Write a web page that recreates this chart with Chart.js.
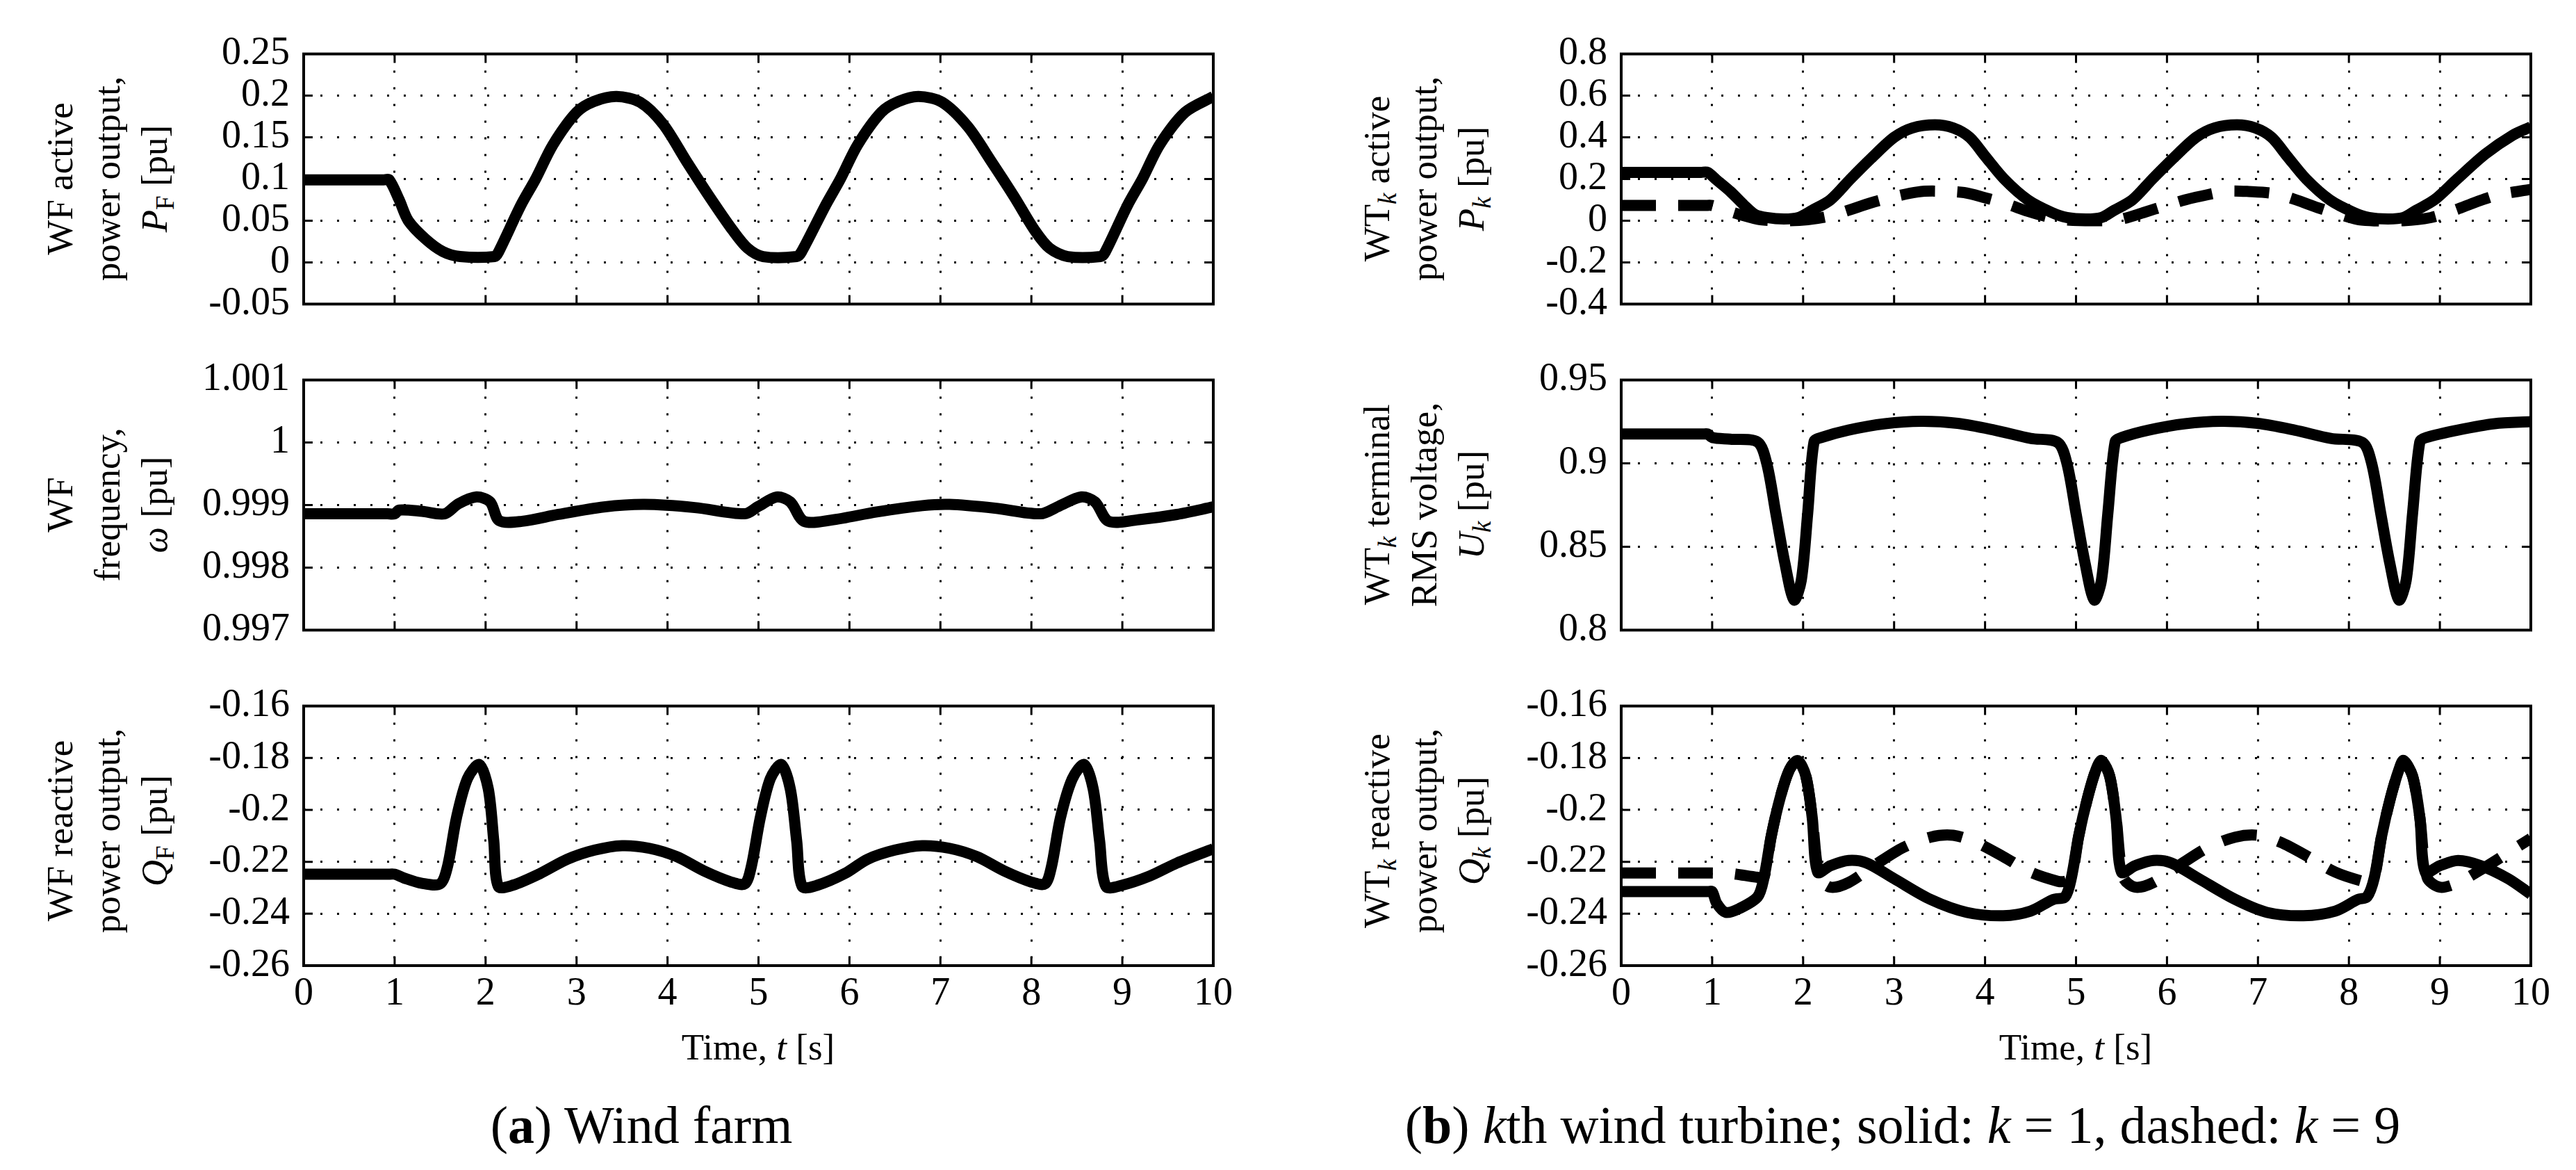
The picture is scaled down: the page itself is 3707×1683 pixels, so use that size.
<!DOCTYPE html>
<html>
<head>
<meta charset="utf-8">
<script src="https://cdn.jsdelivr.net/npm/chart.js@4.4.1/dist/chart.umd.min.js"></script>
<style>
  body { margin: 0; background: #fff; }
  #page { position: relative; width: 3707px; height: 1683px; font-family: 'Liberation Serif', 'DejaVu Serif', serif; color: #000; overflow: hidden; }
  .box { position: absolute; }
  .ylab { position: absolute; transform: translate(-50%, -50%) rotate(-90deg); text-align: center; font-size: 53px; line-height: 68px; white-space: nowrap; }
  .ylab sub { font-size: 0.7em; line-height: 0; vertical-align: -0.28em; }
  .xlab { position: absolute; transform: translate(-50%, -50%); font-size: 53px; white-space: nowrap; }
  .cap { position: absolute; transform: translate(-50%, -50%); font-size: 76px; white-space: nowrap; }
</style>
</head>
<body>
<div id="page">
  <div class="ylab" style="left:154px; top:257px;">WF active<br>power output,<br><i>P</i><sub>F</sub> [pu]</div>
  <div class="ylab" style="left:154px; top:726px;">WF<br>frequency,<br><i>ω</i> [pu]</div>
  <div class="ylab" style="left:154px; top:1195px;">WF reactive<br>power output,<br><i>Q</i><sub>F</sub> [pu]</div>
  <div class="ylab" style="left:2049px; top:257px;">WT<sub><i>k</i></sub> active<br>power output,<br><i>P<sub>k</sub></i> [pu]</div>
  <div class="ylab" style="left:2049px; top:726px;">WT<sub><i>k</i></sub> terminal<br>RMS voltage,<br><i>U<sub>k</sub></i> [pu]</div>
  <div class="ylab" style="left:2049px; top:1195px;">WT<sub><i>k</i></sub> reactive<br>power output,<br><i>Q<sub>k</sub></i> [pu]</div>
  <div class="xlab" style="left:1091px; top:1506px;">Time, <i>t</i> [s]</div>
  <div class="xlab" style="left:2987px; top:1506px;">Time, <i>t</i> [s]</div>
  <div class="cap" style="left:923px; top:1618px;">(<b>a</b>) Wind farm</div>
  <div class="cap" style="left:2738px; top:1618px;">(<b>b</b>) <i>k</i>th wind turbine; solid: <i>k</i> = 1, dashed: <i>k</i> = 9</div>
</div>
<script>
//////////////////////////////////////////////
// Data
//////////////////////////////////////////////
const xTicks = [0, 1, 2, 3, 4, 5, 6, 7, 8, 9, 10];
const xTickLabels = ['0', '1', '2', '3', '4', '5', '6', '7', '8', '9', '10'];

const pfTicks = [-0.05, 0, 0.05, 0.1, 0.15, 0.2, 0.25];
const pfTickLabels = ['-0.05', '0', '0.05', '0.1', '0.15', '0.2', '0.25'];
const omegaTicks = [0.997, 0.998, 0.999, 1, 1.001];
const omegaTickLabels = ['0.997', '0.998', '0.999', '1', '1.001'];
const qTicks = [-0.26, -0.24, -0.22, -0.2, -0.18, -0.16];
const qTickLabels = ['-0.26', '-0.24', '-0.22', '-0.2', '-0.18', '-0.16'];
const pkTicks = [-0.4, -0.2, 0, 0.2, 0.4, 0.6, 0.8];
const pkTickLabels = ['-0.4', '-0.2', '0', '0.2', '0.4', '0.6', '0.8'];
const ukTicks = [0.8, 0.85, 0.9, 0.95];
const ukTickLabels = ['0.8', '0.85', '0.9', '0.95'];

// (a) wind farm active power P_F
const pfTime = [0, 0.5, 0.88, 0.94, 1.05, 1.15, 1.34, 1.53, 1.72, 2.1, 2.14, 2.39, 2.55, 2.74, 3.0, 3.19, 3.44, 3.7, 3.95, 4.21, 4.46, 4.72, 4.88,
  5.05, 5.42, 5.47, 5.74, 5.9, 6.09, 6.35, 6.54, 6.76, 7.02, 7.3, 7.56, 7.81, 8.04, 8.2,
  8.4, 8.76, 8.81, 9.06, 9.22, 9.41, 9.69, 10];
const pfValue = [0.099, 0.099, 0.099, 0.099, 0.075, 0.05, 0.028, 0.013, 0.007, 0.007, 0.012, 0.069, 0.1, 0.141, 0.18, 0.193, 0.199, 0.192, 0.166, 0.121, 0.079, 0.038, 0.017,
  0.007, 0.007, 0.012, 0.069, 0.1, 0.141, 0.18, 0.193, 0.199, 0.192, 0.163, 0.121, 0.079, 0.038, 0.017,
  0.007, 0.007, 0.012, 0.069, 0.1, 0.141, 0.18, 0.199];

// (a) wind farm frequency omega
const omegaTime = [0, 0.5, 0.92, 1.0, 1.05, 1.3, 1.55, 1.7, 1.9, 2.05, 2.15, 2.4, 2.8, 3.3, 3.75, 4.3, 4.85, 5.0, 5.2, 5.35, 5.5, 5.8,
  6.3, 6.8, 7.1, 7.6, 8.1, 8.3, 8.55, 8.7, 8.85, 9.2, 9.6, 10];
const omegaValue = [0.99886, 0.99886, 0.99886, 0.99886, 0.99892, 0.9989, 0.99886, 0.99902, 0.99913, 0.99905, 0.99875, 0.99874, 0.99885, 0.99897, 0.99901, 0.99896, 0.99886, 0.99898, 0.99913, 0.99905, 0.99874, 0.99876,
  0.99889, 0.99899, 0.99901, 0.99895, 0.99886, 0.99898, 0.99913, 0.99905, 0.99874, 0.99877, 0.99885, 0.99897];

// (a) wind farm reactive power Q_F
const qfTime = [0, 0.5, 0.92, 1.0, 1.1, 1.3, 1.5, 1.58, 1.68, 1.8, 1.93, 2.03, 2.09, 2.14, 2.3, 2.6, 2.9, 3.2, 3.5, 3.8, 4.1, 4.4, 4.7,
  4.85, 4.92, 5.02, 5.13, 5.25, 5.35, 5.42, 5.48, 5.65, 5.95, 6.2, 6.5, 6.8, 7.1, 7.4, 7.7, 8.0,
  8.15, 8.22, 8.32, 8.45, 8.58, 8.68, 8.75, 8.82, 9.0, 9.3, 9.6, 10];
const qfValue = [-0.2248, -0.2248, -0.2248, -0.2248, -0.2262, -0.2283, -0.2285, -0.222, -0.203, -0.188, -0.1825, -0.192, -0.212, -0.2295, -0.229, -0.2245, -0.219, -0.2155, -0.2138, -0.2148, -0.218, -0.2235, -0.2278,
  -0.2285, -0.222, -0.203, -0.188, -0.1825, -0.192, -0.212, -0.2295, -0.229, -0.2245, -0.219, -0.2155, -0.2138, -0.2148, -0.218, -0.2235, -0.2278,
  -0.2285, -0.222, -0.203, -0.188, -0.1825, -0.192, -0.212, -0.2295, -0.229, -0.2255, -0.2205, -0.215];

// (b) turbine active power P_k, k = 1 (solid)
const pk1Time = [0, 0.5, 0.88, 0.95, 1.05, 1.2, 1.35, 1.47, 1.6, 1.79, 1.95, 2.1, 2.3, 2.52, 2.75, 3.0, 3.2, 3.45, 3.65, 3.83, 4.0, 4.21,
  4.47, 4.73, 4.9, 5.11, 5.28, 5.42, 5.62, 5.84, 6.07, 6.32, 6.52, 6.77, 6.97, 7.15, 7.32, 7.53,
  7.79, 8.05, 8.22, 8.43, 8.6, 8.74, 8.94, 9.19, 9.5, 9.8, 10];
const pk1Value = [0.232, 0.232, 0.232, 0.232, 0.195, 0.14, 0.075, 0.03, 0.015, 0.008, 0.015, 0.05, 0.1, 0.2, 0.3, 0.4, 0.445, 0.46, 0.445, 0.4, 0.31, 0.2,
  0.1, 0.04, 0.015, 0.008, 0.015, 0.05, 0.1, 0.2, 0.3, 0.4, 0.445, 0.46, 0.445, 0.4, 0.31, 0.2,
  0.1, 0.04, 0.015, 0.008, 0.015, 0.05, 0.1, 0.2, 0.32, 0.41, 0.45];

// (b) turbine active power P_k, k = 9 (dashed)
const pk9Time = [0, 0.5, 0.92, 1.0, 1.15, 1.3, 1.53, 1.8, 2.05, 2.27, 2.5, 2.74, 3.0, 3.26, 3.45, 3.77, 4.0, 4.24, 4.47, 4.69, 4.9, 5.3,
  5.5, 5.75, 5.97, 6.2, 6.45, 6.67, 6.9, 7.18, 7.42, 7.66, 7.9, 8.14, 8.6, 8.9, 9.16, 9.4, 9.64, 10];
const pk9Value = [0.073, 0.073, 0.073, 0.073, 0.05, 0.03, 0.005, 0.0, 0.005, 0.02, 0.05, 0.085, 0.115, 0.138, 0.142, 0.135, 0.11, 0.08, 0.045, 0.018, 0.003, 0.0,
  0.008, 0.04, 0.07, 0.1, 0.125, 0.142, 0.14, 0.13, 0.1, 0.062, 0.03, 0.003, 0.0, 0.015, 0.05, 0.09, 0.124, 0.15];

// (b) turbine terminal voltage U_k, k = 1
const ukTime = [0, 0.5, 0.9, 0.95, 1.0, 1.2, 1.5, 1.6, 1.7, 1.8, 1.9, 1.98, 2.05, 2.12, 2.2, 2.5, 2.9, 3.3, 3.7, 4.1, 4.5, 4.8,
  4.9, 5.0, 5.1, 5.2, 5.28, 5.35, 5.43, 5.5, 5.8, 6.2, 6.6, 7.0, 7.4, 7.8, 8.15,
  8.25, 8.35, 8.45, 8.55, 8.63, 8.7, 8.78, 8.85, 9.2, 9.6, 10];
const ukValue = [0.9176, 0.9176, 0.9176, 0.9176, 0.9155, 0.9145, 0.9128, 0.9, 0.87, 0.84, 0.818, 0.83, 0.87, 0.913, 0.9155, 0.92, 0.9238, 0.9252, 0.924, 0.92, 0.915, 0.9125,
  0.9, 0.87, 0.84, 0.818, 0.83, 0.87, 0.913, 0.9155, 0.92, 0.9238, 0.9252, 0.924, 0.92, 0.915, 0.9125,
  0.9, 0.87, 0.84, 0.818, 0.83, 0.87, 0.913, 0.9155, 0.92, 0.9238, 0.925];

// (b) turbine reactive power Q_k, k = 1 (solid)
const qk1Time = [0, 0.5, 0.95, 1.0, 1.05, 1.15, 1.3, 1.5, 1.57, 1.65, 1.75, 1.85, 1.94, 2.03, 2.1, 2.16, 2.3, 2.5, 2.7, 3.0, 3.4, 3.8, 4.2, 4.5, 4.75,
  4.88, 4.95, 5.03, 5.13, 5.22, 5.28, 5.37, 5.44, 5.5, 5.65, 5.85, 6.05, 6.35, 6.75, 7.1, 7.5, 7.85, 8.1,
  8.2, 8.28, 8.36, 8.46, 8.55, 8.6, 8.7, 8.78, 8.84, 9.0, 9.2, 9.45, 9.75, 10];
const qk1Value = [-0.2315, -0.2315, -0.2315, -0.2315, -0.236, -0.2395, -0.238, -0.2335, -0.226, -0.21, -0.195, -0.1845, -0.181, -0.187, -0.203, -0.224, -0.2215, -0.2195, -0.2205, -0.2265, -0.2345, -0.2395, -0.2408, -0.239, -0.2345,
  -0.2335, -0.226, -0.21, -0.195, -0.1845, -0.181, -0.187, -0.203, -0.224, -0.2215, -0.2195, -0.2205, -0.2265, -0.2345, -0.2395, -0.2408, -0.239, -0.2345,
  -0.2335, -0.226, -0.21, -0.195, -0.1845, -0.181, -0.187, -0.203, -0.224, -0.2215, -0.2195, -0.2215, -0.2265, -0.2325];

// (b) turbine reactive power Q_k, k = 9 (dashed)
const qk9Time = [0, 0.5, 1.0, 1.2, 1.5, 1.57, 1.65, 1.75, 1.85, 1.94, 2.03, 2.1, 2.18, 2.3, 2.5, 2.8, 3.1, 3.4, 3.65, 3.9, 4.2, 4.5, 4.8,
  4.88, 4.95, 5.03, 5.13, 5.22, 5.28, 5.37, 5.44, 5.52, 5.65, 5.85, 6.15, 6.45, 6.75, 7.0, 7.25, 7.55, 7.85, 8.15,
  8.22, 8.28, 8.36, 8.46, 8.55, 8.6, 8.7, 8.78, 8.86, 9.0, 9.2, 9.5, 9.75, 10];
const qk9Value = [-0.2243, -0.2243, -0.2243, -0.2245, -0.226, -0.226, -0.21, -0.195, -0.1845, -0.181, -0.187, -0.203, -0.226, -0.2298, -0.228, -0.221, -0.2145, -0.2105, -0.2098, -0.2125, -0.218, -0.224, -0.2275,
  -0.2275, -0.226, -0.21, -0.195, -0.1845, -0.181, -0.187, -0.203, -0.226, -0.2298, -0.228, -0.221, -0.2145, -0.2105, -0.2098, -0.2125, -0.218, -0.224, -0.2275,
  -0.2275, -0.226, -0.21, -0.195, -0.1845, -0.181, -0.187, -0.203, -0.226, -0.2298, -0.228, -0.222, -0.2165, -0.211];

//////////////////////////////////////////////
// Layout of the six axes (page pixels)
//////////////////////////////////////////////
const COL_LEFT = [437, 2333];
const ROW_TOP = [64, 533, 1002];
const PLOT_W = 1309;
const PLOT_H = 387;
const Y_AXIS_W = 230;
const PAD_TOP = 40;
const PAD_RIGHT = 45;

const FONT = "'Liberation Serif', 'DejaVu Serif', serif";
const LINE_W = 16;
const DASH = [50, 32];

function pairs(t, v) {
    return t.map((x, i) => ({ x: x, y: v[i] }));
}

//////////////////////////////////////////////
// Box frame + inward tick marks (MATLAB look)
//////////////////////////////////////////////
const framePlugin = {
    id: 'frame',
    afterDatasetsDraw(chart) {
        const ctx = chart.ctx;
        const a = chart.chartArea;
        const xs = chart.scales.x;
        const ys = chart.scales.y;
        const len = 13;
        ctx.save();
        ctx.strokeStyle = '#000';
        ctx.lineWidth = 3;
        ctx.setLineDash([]);
        ctx.beginPath();
        xs.ticks.forEach(tk => {
            const px = xs.getPixelForValue(tk.value);
            ctx.moveTo(px, a.bottom); ctx.lineTo(px, a.bottom - len);
            ctx.moveTo(px, a.top); ctx.lineTo(px, a.top + len);
        });
        ys.ticks.forEach(tk => {
            const py = ys.getPixelForValue(tk.value);
            ctx.moveTo(a.left, py); ctx.lineTo(a.left + len, py);
            ctx.moveTo(a.right, py); ctx.lineTo(a.right - len, py);
        });
        ctx.stroke();
        ctx.lineWidth = 4;
        ctx.strokeRect(a.left, a.top, a.right - a.left, a.bottom - a.top);
        ctx.restore();
    }
};

//////////////////////////////////////////////
// Build one subplot
//////////////////////////////////////////////
function makePlot(col, row, yMin, yMax, yTicks, yLabels, series) {
    const bottom = row === 2;
    const xAxisH = bottom ? 100 : 0;
    const padBottom = bottom ? 0 : 40;

    const box = document.createElement('div');
    box.className = 'box';
    box.style.left = (COL_LEFT[col] - Y_AXIS_W) + 'px';
    box.style.top = (ROW_TOP[row] - PAD_TOP) + 'px';
    box.style.width = (Y_AXIS_W + PLOT_W + PAD_RIGHT) + 'px';
    box.style.height = (PAD_TOP + PLOT_H + xAxisH + padBottom) + 'px';
    const canvas = document.createElement('canvas');
    box.appendChild(canvas);
    document.getElementById('page').appendChild(box);

    const datasets = series.map(s => ({
        data: pairs(s.t, s.v),
        borderColor: '#000',
        backgroundColor: '#000',
        borderWidth: LINE_W,
        borderDash: s.dashed ? DASH : [],
        borderCapStyle: 'butt',
        borderJoinStyle: 'round',
        pointRadius: 0,
        fill: false,
        tension: 0.3
    }));

    const gridOpts = { color: '#000', lineWidth: 3, drawTicks: false };
    const borderOpts = { display: false, dash: [3, 21] };

    return new Chart(canvas.getContext('2d'), {
        type: 'line',
        data: { datasets: datasets },
        options: {
            responsive: true,
            maintainAspectRatio: false,
            animation: false,
            layout: { padding: { top: PAD_TOP, right: PAD_RIGHT, bottom: padBottom, left: 0 } },
            plugins: { legend: { display: false }, tooltip: { enabled: false } },
            scales: {
                x: {
                    type: 'linear',
                    min: 0,
                    max: 10,
                    afterBuildTicks: axis => { axis.ticks = xTicks.map(v => ({ value: v })); },
                    afterFit: axis => { axis.height = xAxisH; },
                    grid: gridOpts,
                    border: borderOpts,
                    ticks: {
                        display: bottom,
                        autoSkip: false,
                        padding: 8,
                        color: '#000',
                        maxRotation: 0,
                        font: { family: FONT, size: 56 },
                        callback: (value, index) => xTickLabels[index]
                    }
                },
                y: {
                    type: 'linear',
                    min: yMin,
                    max: yMax,
                    afterBuildTicks: axis => { axis.ticks = yTicks.map(v => ({ value: v })); },
                    afterFit: axis => { axis.width = Y_AXIS_W; },
                    grid: gridOpts,
                    border: borderOpts,
                    ticks: {
                        autoSkip: false,
                        padding: 20,
                        color: '#000',
                        font: { family: FONT, size: 56 },
                        callback: (value, index) => yLabels[index]
                    }
                }
            }
        },
        plugins: [framePlugin]
    });
}

//////////////////////////////////////////////
// Page Load
//////////////////////////////////////////////
document.addEventListener('DOMContentLoaded', () => {
    makePlot(0, 0, -0.05, 0.25, pfTicks, pfTickLabels, [{ t: pfTime, v: pfValue }]);
    makePlot(0, 1, 0.997, 1.001, omegaTicks, omegaTickLabels, [{ t: omegaTime, v: omegaValue }]);
    makePlot(0, 2, -0.26, -0.16, qTicks, qTickLabels, [{ t: qfTime, v: qfValue }]);
    makePlot(1, 0, -0.4, 0.8, pkTicks, pkTickLabels, [
        { t: pk1Time, v: pk1Value },
        { t: pk9Time, v: pk9Value, dashed: true }
    ]);
    makePlot(1, 1, 0.8, 0.95, ukTicks, ukTickLabels, [{ t: ukTime, v: ukValue }]);
    makePlot(1, 2, -0.26, -0.16, qTicks, qTickLabels, [
        { t: qk1Time, v: qk1Value },
        { t: qk9Time, v: qk9Value, dashed: true }
    ]);
});
</script>
</body>
</html>
